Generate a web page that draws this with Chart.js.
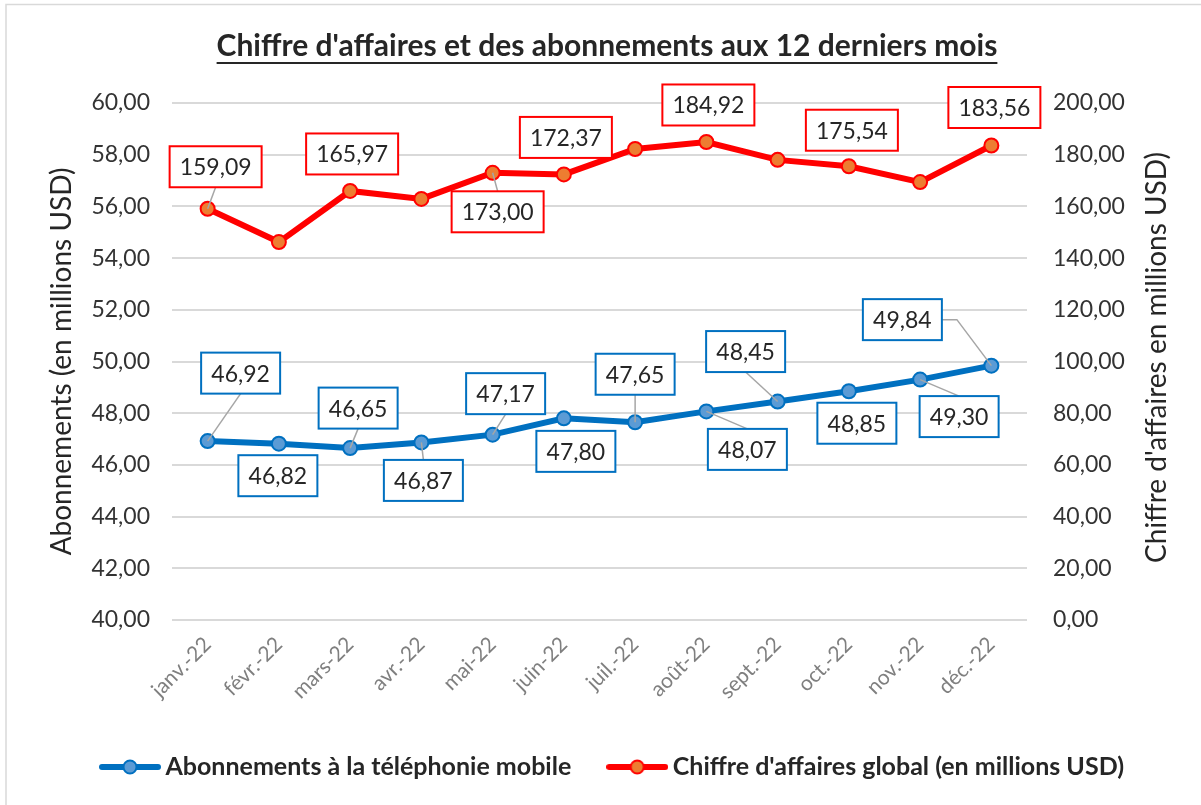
<!DOCTYPE html>
<html>
<head>
<meta charset="utf-8">
<script src="https://cdn.jsdelivr.net/npm/chart.js@4.4.1/dist/chart.umd.min.js"></script>
<style>
  html, body { margin: 0; padding: 0; background: #fff; }
  #chart { display: block; }
</style>
</head>
<body>
<canvas id="chart" width="1201" height="805"></canvas>
<script>
// Data
const months = ["janv.-22", "févr.-22", "mars-22", "avr.-22", "mai-22", "juin-22",
                "juil.-22", "août-22", "sept.-22", "oct.-22", "nov.-22", "déc.-22"];
const abonnements = [46.92, 46.82, 46.65, 46.87, 47.17, 47.80, 47.65, 48.07, 48.45, 48.85, 49.30, 49.84];
const chiffreAffaires = [159.09, 146.2, 165.97, 162.9, 173.00, 172.37, 182.2, 184.92, 178.0, 175.54, 169.4, 183.56];
// which revenue points carry a label
const showLabelCA = [true, false, true, false, true, true, false, true, false, true, false, true];

const leftTicks = [40, 42, 44, 46, 48, 50, 52, 54, 56, 58, 60];
const rightTicks = [0, 20, 40, 60, 80, 100, 120, 140, 160, 180, 200];

const titleText = "Chiffre d'affaires et des abonnements aux 12 derniers mois";
const leftTitle = "Abonnements (en millions USD)";
const rightTitle = "Chiffre d'affaires en millions USD)";
const legendNames = ["Abonnements à la téléphonie mobile", "Chiffre d'affaires global (en millions USD)"];

// label box placement (offset of box centre from the point) and leader lines
const blueOffsets = [[33, -68], [-1, 32], [8, -40], [2, 38], [13, -41], [12, 33],
                     [0, -48], [41, 38], [-32, -50], [8, 32], [39, 37], [-89, -46]];
const blueLeaders = [true, false, true, true, true, false, true, true, true, false, true, true];
const redOffsets = [[8, -42], null, [2, -37], null, [5, 39], [2, -37],
                    null, [2, -37], null, [3, -36], null, [3, -38]];
const redLeaders = [true, false, false, false, true, false, false, false, false, false, false, false];

const BLUE = "#0070c0";
const RED = "#ff0000";
const TEXT = "#262626";

function fmt(v) {
    return v.toFixed(2).replace(".", ",");
}

// Legend icons: line with a marker in the middle
function legendIcon(line, fill) {
    const c = document.createElement("canvas");
    c.width = 62;
    c.height = 20;
    const g = c.getContext("2d");
    g.strokeStyle = line;
    g.lineWidth = 6;
    g.lineCap = "round";
    g.beginPath();
    g.moveTo(3, 10);
    g.lineTo(59, 10);
    g.stroke();
    g.beginPath();
    g.arc(31, 10, 6.5, 0, Math.PI * 2);
    g.fillStyle = fill;
    g.fill();
    g.lineWidth = 2;
    g.stroke();
    return c;
}
const legendIcons = [legendIcon(BLUE, "#5b9bd5"), legendIcon(RED, "#ed7d31")];

// Border, title and axis titles
const decorPlugin = {
    id: "decor",
    afterLayout(chart) {
        // legend sits a little right of centre in the original
        if (chart.legend) {
            chart.legend.left += 15;
            chart.legend.right += 15;
        }
    },
    beforeDraw(chart) {
        const ctx = chart.ctx;
        ctx.save();
        ctx.fillStyle = "#fff";
        ctx.fillRect(0, 0, chart.width, chart.height);
        ctx.strokeStyle = "#d9d9d9";
        ctx.lineWidth = 1.5;
        ctx.strokeRect(6, 4.5, 1300, 900);
        ctx.restore();
    },
    afterDraw(chart) {
        const ctx = chart.ctx;
        const area = chart.chartArea;
        const midY = (area.top + area.bottom) / 2;
        ctx.save();
        ctx.fillStyle = TEXT;
        ctx.font = "bold 30px Lato";
        ctx.textAlign = "center";
        ctx.textBaseline = "alphabetic";
        ctx.fillText(titleText, 607, 56);
        const w = ctx.measureText(titleText).width;
        ctx.fillRect(607 - w / 2, 62, w, 2);

        ctx.font = "28px Lato";
        ctx.textBaseline = "middle";
        ctx.save();
        ctx.translate(62, midY);
        ctx.rotate(-Math.PI / 2);
        ctx.fillText(leftTitle, 0, 0);
        ctx.restore();
        ctx.save();
        ctx.translate(1157, midY - 4);
        ctx.rotate(-Math.PI / 2);
        ctx.fillText(rightTitle, 0, 0);
        ctx.restore();
        ctx.restore();
    }
};

// Boxed data labels with leader lines
const dataLabelPlugin = {
    id: "boxLabels",
    afterDatasetsDraw(chart) {
        const ctx = chart.ctx;
        const sets = [
            { values: abonnements, show: abonnements.map(() => true), offsets: blueOffsets, leaders: blueLeaders, color: BLUE },
            { values: chiffreAffaires, show: showLabelCA, offsets: redOffsets, leaders: redLeaders, color: RED }
        ];
        ctx.save();
        ctx.font = "23px Lato";
        sets.forEach((s, di) => {
            const meta = chart.getDatasetMeta(di);
            meta.data.forEach((pt, j) => {
                if (!s.show[j] || !s.offsets[j]) return;
                const text = fmt(s.values[j]);
                const [dx, dy] = s.offsets[j];
                const w = Math.round(ctx.measureText(text).width + 20);
                const h = 41;
                const cx = pt.x + dx;
                const cy = pt.y + dy;
                const left = cx - w / 2;
                const top = cy - h / 2;

                if (s.leaders[j]) {
                    ctx.strokeStyle = "#a6a6a6";
                    ctx.lineWidth = 1.5;
                    ctx.beginPath();
                    ctx.moveTo(pt.x, pt.y);
                    if (Math.abs(dx) > w / 2 + 10) {
                        const ax = dx > 0 ? left : left + w;
                        const stub = dx > 0 ? ax - 15 : ax + 15;
                        ctx.lineTo(stub, cy);
                        ctx.lineTo(ax, cy);
                    } else {
                        ctx.lineTo(cx, dy > 0 ? top : top + h);
                    }
                    ctx.stroke();
                }

                ctx.fillStyle = "#fff";
                ctx.fillRect(left, top, w, h);
                ctx.strokeStyle = s.color;
                ctx.lineWidth = 2;
                ctx.strokeRect(left, top, w, h);
                ctx.fillStyle = TEXT;
                ctx.textAlign = "center";
                ctx.textBaseline = "middle";
                ctx.fillText(text, cx, cy + 1);
            });
        });
        ctx.restore();
    }
};

const ctx = document.getElementById("chart").getContext("2d");
new Chart(ctx, {
    type: "line",
    data: {
        labels: months,
        datasets: [
            {
                label: legendNames[0],
                data: abonnements,
                yAxisID: "y",
                borderColor: BLUE,
                borderWidth: 6,
                backgroundColor: "#5b9bd5",
                pointBackgroundColor: "#5b9bd5",
                pointBorderColor: BLUE,
                pointBorderWidth: 2,
                pointRadius: 7,
                tension: 0
            },
            {
                label: legendNames[1],
                data: chiffreAffaires,
                yAxisID: "y1",
                borderColor: RED,
                borderWidth: 6,
                backgroundColor: "#ed7d31",
                pointBackgroundColor: "#ed7d31",
                pointBorderColor: RED,
                pointBorderWidth: 2,
                pointRadius: 7,
                tension: 0
            }
        ]
    },
    options: {
        responsive: false,
        animation: false,
        devicePixelRatio: 1,
        layout: { padding: { top: 103, left: 0, right: 0, bottom: 15.5 } },
        plugins: {
            title: { display: false },
            tooltip: { enabled: false },
            legend: {
                position: "bottom",
                labels: {
                    usePointStyle: true,
                    pointStyleWidth: 46,
                    boxHeight: 20,
                    padding: 43,
                    color: TEXT,
                    font: { family: "Lato", size: 25, weight: "bold" },
                    generateLabels(chart) {
                        const items = Chart.defaults.plugins.legend.labels.generateLabels(chart);
                        items.forEach((it, i) => { it.pointStyle = legendIcons[i]; });
                        return items;
                    }
                }
            }
        },
        scales: {
            x: {
                offset: true,
                grid: { display: false, drawTicks: false },
                border: { display: false },
                ticks: {
                    autoSkip: false,
                    maxRotation: 45,
                    minRotation: 45,
                    padding: 12,
                    color: "#7f7f7f",
                    font: { family: "Lato", size: 21 }
                },
                afterFit(scale) { scale.height = 91.5; }
            },
            y: {
                position: "left",
                min: 40,
                max: 60,
                afterBuildTicks(scale) { scale.ticks = leftTicks.map(v => ({ value: v })); },
                grid: { color: "#d9d9d9", lineWidth: 2, drawTicks: false },
                border: { display: false },
                ticks: {
                    padding: 22,
                    color: "#333",
                    font: { family: "Lato", size: 23 },
                    callback: v => fmt(v)
                },
                afterFit(scale) { scale.width = 172; }
            },
            y1: {
                position: "right",
                min: 0,
                max: 200,
                afterBuildTicks(scale) { scale.ticks = rightTicks.map(v => ({ value: v })); },
                grid: { display: false, drawTicks: false },
                border: { display: false },
                ticks: {
                    padding: 26,
                    color: "#333",
                    font: { family: "Lato", size: 23 },
                    callback: v => fmt(v)
                },
                afterFit(scale) { scale.width = 174; }
            }
        }
    },
    plugins: [decorPlugin, dataLabelPlugin]
});
</script>
</body>
</html>
